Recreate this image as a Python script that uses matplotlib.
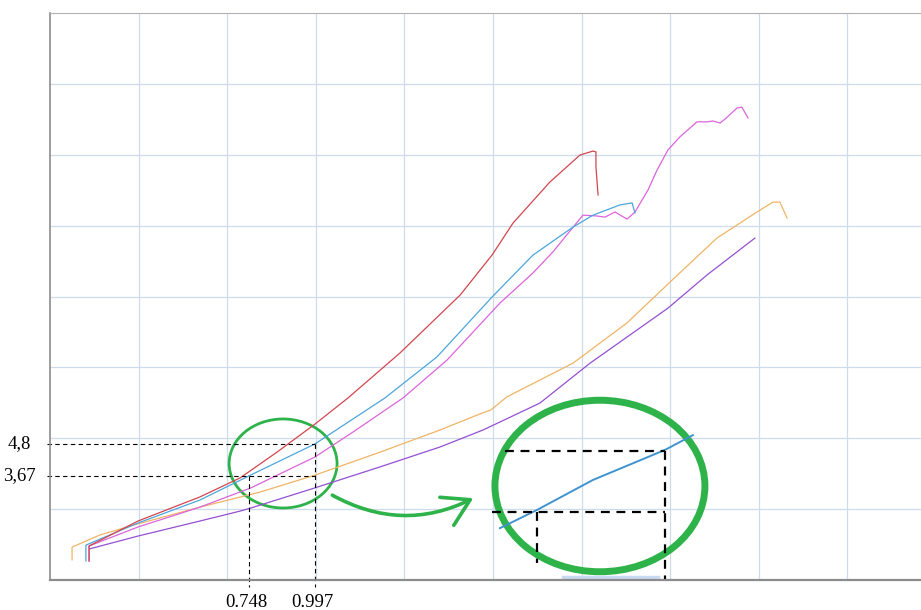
import matplotlib
matplotlib.use("Agg")
import matplotlib.pyplot as plt
from matplotlib.patches import Ellipse, FancyArrowPatch

# curves (x, y in plot units)
RED_X = [0.147, 0.147, 0.331, 0.564, 0.715, 0.854, 0.997, 1.121, 1.317, 1.543,
         1.663, 1.742, 1.881, 1.994, 2.043, 2.054, 2.054, 2.062]
RED_Y = [0.67, 1.20, 2.08, 2.93, 3.60, 4.51, 5.50, 6.42, 8.01, 10.05,
         11.46, 12.59, 14.04, 14.99, 15.13, 15.10, 14.57, 13.58]

BLUE_X = [0.135, 0.135, 0.331, 0.564, 0.748, 0.997, 1.260, 1.456, 1.663, 1.817,
          1.968, 2.043, 2.144, 2.190, 2.201]
BLUE_Y = [0.67, 1.23, 2.01, 2.82, 3.67, 4.80, 6.42, 7.87, 9.98, 11.46,
          12.45, 12.87, 13.23, 13.30, 12.95]

MAGENTA_X = [0.147, 0.147, 0.331, 0.564, 0.756, 0.997, 1.140, 1.328, 1.494, 1.693,
             1.817, 1.892, 2.005, 2.058, 2.088, 2.126, 2.171, 2.201, 2.250, 2.284,
             2.325, 2.370, 2.434, 2.472, 2.494, 2.521, 2.540, 2.585, 2.603, 2.626]
MAGENTA_Y = [0.67, 1.20, 1.87, 2.57, 3.25, 4.34, 5.22, 6.42, 7.76, 9.77,
             10.83, 11.57, 12.87, 12.84, 12.80, 12.98, 12.73, 12.98, 13.76, 14.46,
             15.17, 15.63, 16.16, 16.16, 16.19, 16.12, 16.26, 16.65, 16.68, 16.30]

ORANGE_X = [0.083, 0.083, 0.188, 0.331, 0.564, 0.790, 0.997, 1.242, 1.467, 1.618,
            1.659, 1.719, 1.968, 2.171, 2.333, 2.509, 2.660, 2.720, 2.746, 2.773]
ORANGE_Y = [0.71, 1.16, 1.59, 1.98, 2.57, 3.10, 3.70, 4.51, 5.29, 5.86,
            6.00, 6.46, 7.65, 9.07, 10.51, 12.06, 12.98, 13.33, 13.33, 12.77]

PURPLE_X = [0.150, 0.331, 0.564, 0.715, 0.756, 0.997, 1.242, 1.467, 1.629, 1.843,
            2.032, 2.171, 2.325, 2.472, 2.652]
PURPLE_Y = [1.10, 1.55, 2.08, 2.43, 2.54, 3.25, 3.99, 4.69, 5.29, 6.24,
            7.65, 8.57, 9.59, 10.76, 12.06]

# marked point pair
MARK_X = [0.748, 0.997]
MARK_Y = [3.67, 4.8]
MARK_XLABELS = ["0.748", "0.997"]
MARK_YLABELS = ["3,67", "4,8"]

# magnified copy drawn in the big circle
ZOOM_X = [1.693, 1.832, 2.043, 2.314, 2.419]
ZOOM_Y = [1.83, 2.47, 3.53, 4.59, 5.11]
ZOOM_HI = (1.712, 2.314, 4.55)   # x0, x1, y
ZOOM_LO = (1.663, 2.314, 2.40)
ZOOM_VLINES = [(1.832, 2.40, 0.60), (2.314, 4.55, 0.0)]

fig = plt.figure(figsize=(9.21, 6.10), dpi=100)
ax = fig.add_axes([50 / 921, 30 / 610, 871 / 921, 567 / 610])
ax.set_xlim(0, 3.277)
ax.set_ylim(0, 20)
ax.set_xticks([k / 3 for k in range(1, 10)])
ax.set_yticks([2.5 * k for k in range(1, 8)])
ax.tick_params(length=0, labelbottom=False, labelleft=False)
ax.grid(True, color="#cddcec", lw=0.9)
ax.set_axisbelow(True)
ax.spines["right"].set_visible(False)
ax.spines["top"].set_color("#b0b0b0")
ax.spines["left"].set_color("#8c8c8c")
ax.spines["bottom"].set_color("#8c8c8c")
ax.spines["bottom"].set_linewidth(1.6)
ax.spines["left"].set_linewidth(1.2)

ax.plot(ORANGE_X, ORANGE_Y, color="#f0b464", lw=0.9)
ax.plot(PURPLE_X, PURPLE_Y, color="#9450d2", lw=0.9)
ax.plot(MAGENTA_X, MAGENTA_Y, color="#dc64dc", lw=0.9)
ax.plot(BLUE_X, BLUE_Y, color="#4ca6dc", lw=0.9)
ax.plot(RED_X, RED_Y, color="#d2464e", lw=0.9)

# dashed guides to the marked points
dash = dict(color="black", lw=0.8, ls=(0, (4, 3)), clip_on=False)
for mx, my in zip(MARK_X, MARK_Y):
    ax.plot([-0.01, MARK_X[1]], [my, my], **dash)
    ax.plot([mx, mx], [my, -0.25], **dash)

serif = dict(family="Liberation Serif", fontsize=13.5, clip_on=False)
for mx, lab in zip(MARK_X, MARK_XLABELS):
    ax.text(mx - 0.01, -0.8, lab, ha="center", va="center", **serif)
ax.text(-0.177, MARK_Y[0], MARK_YLABELS[0], ha="left", va="center", **serif)
ax.text(-0.158, MARK_Y[1], MARK_YLABELS[1], ha="left", va="center", **serif)

# circles and arrow
ax.add_patch(Ellipse((0.877, 4.11), 0.406, 3.14, fill=False, ec="#2eb24a", lw=2.0))
ax.add_patch(Ellipse((2.069, 3.316), 0.790, 6.05, fill=False, ec="#2eb24a", lw=5.0))
ax.add_patch(FancyArrowPatch((1.053, 3.04), (1.602, 2.93),
                             connectionstyle="arc3,rad=0.27",
                             arrowstyle="->,head_length=0.75,head_width=0.45",
                             mutation_scale=25, color="#2eb24a", lw=2.6))

# inside of the magnified view
ax.plot([1.929, 2.286], [0.1, 0.1], color="#c8daf0", lw=2.5)
ax.plot(ZOOM_X, ZOOM_Y, color="#3f94cf", lw=1.4)
zdash = dict(color="black", lw=1.6, ls=(0, (4, 3)))
ax.plot(ZOOM_HI[:2], [ZOOM_HI[2]] * 2, **zdash)
ax.plot(ZOOM_LO[:2], [ZOOM_LO[2]] * 2, **zdash)
for vx, y0, y1 in ZOOM_VLINES:
    ax.plot([vx, vx], [y0, y1], **zdash)

fig.savefig("out.png", dpi=100)
